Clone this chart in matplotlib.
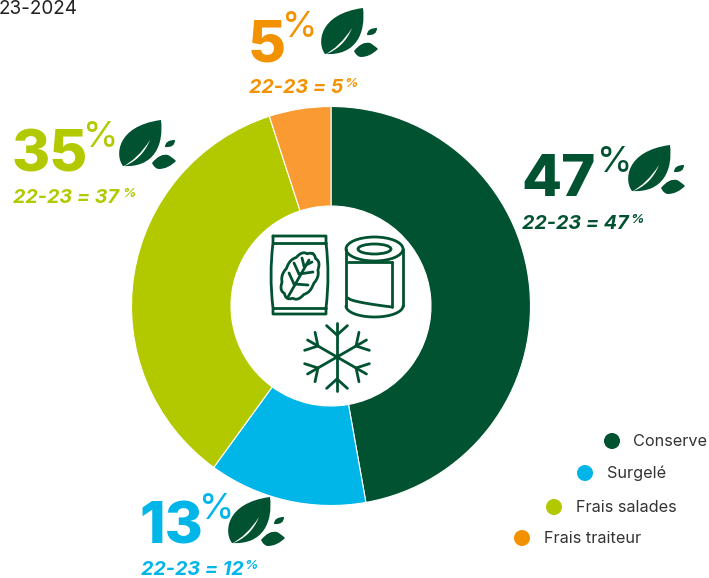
import numpy as np
import matplotlib
matplotlib.use("Agg")
import matplotlib.pyplot as plt
from matplotlib.path import Path
from matplotlib.patches import PathPatch, Ellipse, Circle

categories = ["Conserve", "Surgelé", "Frais salades", "Frais traiteur"]
shares = [47, 13, 35, 5]
slice_values = [47.2, 12.8, 35.0, 5.0]
previous = [47, 12, 37, 5]
pie_colors = ["#005230", "#00B5E8", "#B2C900", "#F99A33"]
text_colors = ["#005230", "#00B5E8", "#B2C900", "#F39200"]
dot_colors = ["#005230", "#00B5E8", "#B2C900", "#F39200"]
ICON = "#005230"
FONT = "Inter"

fig = plt.figure(figsize=(7.09, 5.78), dpi=100)
ax = fig.add_axes([0, 0, 1, 1])
ax.pie(slice_values, colors=pie_colors, startangle=-90, counterclock=True,
       center=(331, 306), radius=199.5,
       wedgeprops=dict(width=99.5, edgecolor="white", linewidth=0.8))
ax.set_xlim(0, 709)
ax.set_ylim(578, 0)
ax.set_aspect("equal")
ax.axis("off")

M, L, C = Path.MOVETO, Path.LINETO, Path.CURVE3
C4 = Path.CURVE4


def blob(x, y, verts, codes, color=ICON, z=4):
    ax.add_patch(PathPatch(Path(np.array(verts, float) + (x, y), codes), fc=color, ec="none", zorder=z))


def leaf_icon(x, y):
    """x, y: top-left corner of the icon in pixels."""
    blob(x, y, [(5, 46), (-3, 36), (-2, 6), (43, 0), (46, 25), (36, 48), (5, 46)],
         [M, C4, C4, C4, C4, C4, C4])
    blob(x, y, [(4, 47), (20, 39), (32, 20), (24, 40), (4, 47)],
         [M, C, C, C, C], color="white", z=5)
    blob(x, y, [(34, 43), (42, 33), (50, 35), (54, 37), (58, 41), (50, 49), (41, 49), (37, 49), (34, 43)],
         [M, C, C, C, C, C, C, C, C])
    blob(x, y, [(47, 27), (47, 20), (57, 20), (57, 28), (47, 27)], [M, C, C, C, C])


layout = [
    # number-left, baseline, percent-left, sub-left, sub-baseline, subpct-left, icon-x, icon-y
    (521, 196, 597, 522, 230, 630, 627, 145),
    (139, 543, 199, 141, 576, 244, 227, 497),
    (11, 171, 83, 13, 204, 122, 118, 120),
    (248, 61, 282, 249, 94, 344, 320, 8),
]
for s, p, col, (nx, ny, px, sx, sy, spx, ix, iy) in zip(shares, previous, text_colors, layout):
    ax.text(nx, ny, f"{s}", color=col, fontsize=42, fontweight="heavy", family=FONT, ha="left", va="baseline")
    ax.text(px, ny - 24, "%", color=col, fontsize=26, family=FONT, ha="left", va="baseline")
    ax.text(sx, sy - 1, f"22-23 = {p}", color=col, fontsize=14.2, fontweight="bold", style="italic",
            family=FONT, ha="left", va="baseline")
    ax.text(spx, sy - 7, "%", color=col, fontsize=9.5, fontweight="bold", style="italic",
            family=FONT, ha="left", va="baseline")
    leaf_icon(ix, iy)

ax.text(-1, 14, "23-2024", color="#222222", fontsize=13.6, family=FONT, ha="left", va="baseline")

# Legend
dot_xy = [(612, 441), (585, 473), (554, 507), (522, 538)]
label_x = [633, 607, 576, 544]
for cat, col, (dx, dy), lx in zip(categories, dot_colors, dot_xy, label_x):
    ax.add_patch(Circle((dx, dy), 8, fc=col, ec="none", zorder=4))
    ax.text(lx, dy + 0.5, cat, color="#333333", fontsize=11.7, family=FONT, ha="left", va="center")

# Centre icons
lw = 2.0
kw = dict(fc="none", ec=ICON, lw=lw, zorder=5, capstyle="round", joinstyle="round")


def stroke(xs, ys, z=5):
    ax.plot(xs, ys, color=ICON, lw=lw, zorder=z, solid_capstyle="round")


# Bag
bag = Path([(273, 236), (326, 236), (326, 243), (330, 275), (326, 308), (326, 314), (273, 314),
            (273, 308), (269, 275), (273, 243), (273, 236)],
           [M, L, L, C, C, L, L, L, C, C, L])
ax.add_patch(PathPatch(bag, **kw))
stroke([273, 326], [243, 243])
stroke([273, 326], [308, 308])
t = np.linspace(0, 2 * np.pi, 200)
rad = 1 + 0.07 * np.abs(np.cos(5 * t))
axis_ang = np.deg2rad(60)
u = 24 * rad * np.cos(t)
v = 15.5 * rad * np.sin(t)
stroke(300 + u * np.cos(axis_ang) - v * np.sin(axis_ang),
       276 - u * np.sin(axis_ang) - v * np.cos(axis_ang))
stroke([288, 309], [297, 260])
for a, b in [((294, 284), (289, 273)), ((299, 274), (294, 263)), ((304, 266), (302, 258)),
             ((294, 284), (308, 285)), ((299, 274), (313, 272)), ((304, 266), (312, 262))]:
    stroke([a[0], b[0]], [a[1], b[1]])

# Can
ax.add_patch(Ellipse((374.5, 249), 57, 24, **kw))
ax.add_patch(Ellipse((374.5, 249), 33, 10, **kw))
bottom = np.linspace(np.pi, 0, 40)
stroke(374.5 + 28.5 * np.cos(bottom), 306 + 11 * np.sin(bottom))
stroke([346, 346], [249, 306])
stroke([403, 403], [249, 306])
label_x_top = np.linspace(348, 392, 20)
stroke(label_x_top, 262 + 0 * label_x_top)
stroke([392, 392], [262, 307])
stroke(label_x_top, 298 + 9 * ((label_x_top - 348) / 44) ** 0.6)

# Snowflake
cx, cy = 337, 357
for ang in np.deg2rad([90, 30, -30, -90, -150, 150]):
    ux, uy = np.cos(ang), -np.sin(ang)
    stroke([cx, cx + 34 * ux], [cy, cy + 34 * uy])
    for sgn in (-1, 1):
        a2 = ang + sgn * np.deg2rad(48)
        bx, by = cx + 22 * ux, cy + 22 * uy
        stroke([bx, bx + 14 * np.cos(a2)], [by, by - 14 * np.sin(a2)])

fig.savefig("out.png", dpi=100)
